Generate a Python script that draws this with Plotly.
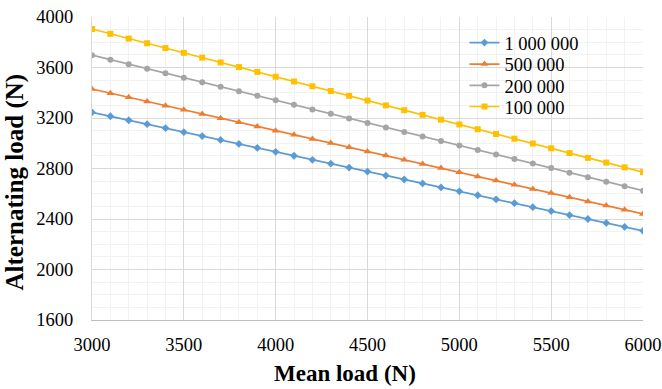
import plotly.graph_objects as go

# Mean load (N), sampled every 100 N
mean_load = list(range(3000, 6001, 100))

# Alternating load (N) for each fatigue life (cycles)
load_1000000 = [3245, 3214, 3182, 3151, 3120, 3088, 3057, 3026, 2995, 2963,
                2932, 2901, 2869, 2838, 2807, 2776, 2744, 2713, 2682, 2650,
                2619, 2588, 2556, 2525, 2494, 2463, 2431, 2400, 2369, 2337, 2306]
load_500000 = [3430, 3397, 3364, 3331, 3298, 3265, 3232, 3199, 3166, 3133,
               3100, 3067, 3034, 3001, 2968, 2935, 2902, 2869, 2836, 2803,
               2770, 2737, 2704, 2671, 2638, 2605, 2572, 2539, 2506, 2473, 2440]
load_200000 = [3698, 3662, 3626, 3591, 3555, 3519, 3483, 3447, 3412, 3376,
               3340, 3304, 3268, 3233, 3197, 3161, 3125, 3089, 3054, 3018,
               2982, 2946, 2910, 2875, 2839, 2803, 2767, 2731, 2696, 2660, 2624]
load_100000 = [3905, 3867, 3829, 3792, 3754, 3716, 3678, 3640, 3603, 3565,
               3527, 3489, 3451, 3414, 3376, 3338, 3300, 3262, 3225, 3187,
               3149, 3111, 3073, 3036, 2998, 2960, 2922, 2884, 2847, 2809, 2771]

series_names = ["1 000 000", "500 000", "200 000", "100 000"]
x_ticks = [3000, 3500, 4000, 4500, 5000, 5500, 6000]
y_ticks = [1600, 2000, 2400, 2800, 3200, 3600, 4000]
x_title = "Mean load (N)"
y_title = "Alternating load (N)"

series = [
    (series_names[0], load_1000000, "#5B9BD5", "diamond", 6),
    (series_names[1], load_500000, "#ED7D31", "triangle-up", 7),
    (series_names[2], load_200000, "#A5A5A5", "circle", 6),
    (series_names[3], load_100000, "#FFC000", "square", 6),
]

SERIF = "Liberation Serif, Times New Roman, serif"

# one compact legend box per series so the rows sit tightly stacked
legend_ids = ["legend", "legend2", "legend3", "legend4"]
legend_rows = [0.914, 0.843, 0.773, 0.703]

fig = go.Figure()
for (name, vals, color, symbol, size), lid in zip(series, legend_ids):
    fig.add_trace(go.Scatter(
        x=mean_load, y=vals, name=name, mode="lines+markers",
        line=dict(color=color, width=1.7),
        marker=dict(symbol=symbol, size=size, color=color),
        legend=lid,
    ))

legend_layout = {}
for lid, ypos in zip(legend_ids, legend_rows):
    legend_layout[lid] = dict(
        x=0.676, y=ypos, xanchor="left", yanchor="middle",
        bgcolor="rgba(0,0,0,0)", font=dict(family=SERIF, size=18.5, color="#000000"),
        itemwidth=30, tracegroupgap=0,
    )

fig.update_layout(
    width=662, height=389,
    margin=dict(l=92, r=19, t=17, b=69, autoexpand=False),
    paper_bgcolor="white", plot_bgcolor="white",
    font=dict(family=SERIF, color="#000000", size=18),
    showlegend=True,
    **legend_layout,
)

fig.update_xaxes(
    range=[3000, 6000], tickvals=x_ticks, ticktext=[str(v) for v in x_ticks],
    showgrid=True, gridcolor="#D9D9D9", gridwidth=1,
    minor=dict(dtick=100, showgrid=True, gridcolor="#F2F2F2", gridwidth=1),
    showline=True, linecolor="#BFBFBF", linewidth=1,
    zeroline=False, ticks="", ticklabelstandoff=8, automargin=False,
    tickfont=dict(family=SERIF, size=18.5, color="#000000"),
)
fig.update_yaxes(
    range=[1600, 4000], tickvals=y_ticks, ticktext=[str(v) for v in y_ticks],
    showgrid=True, gridcolor="#D9D9D9", gridwidth=1,
    minor=dict(dtick=100, showgrid=True, gridcolor="#F2F2F2", gridwidth=1),
    showline=True, linecolor="#D9D9D9", linewidth=1,
    zeroline=False, ticks="", ticklabelstandoff=14, automargin=False,
    tickfont=dict(family=SERIF, size=18.5, color="#000000"),
)

# axis titles
fig.add_annotation(
    text=f"<b>{x_title}</b>", xref="paper", yref="paper",
    x=0.459, y=-0.178, xanchor="center", yanchor="middle", showarrow=False,
    font=dict(family=SERIF, size=23, color="#000000"),
)
fig.add_annotation(
    text=f"<b>{y_title}</b>", xref="paper", yref="paper", textangle=-90,
    x=-0.139, y=0.455, xanchor="center", yanchor="middle", showarrow=False,
    font=dict(family=SERIF, size=25, color="#000000"),
)

fig.write_html("out.html")
